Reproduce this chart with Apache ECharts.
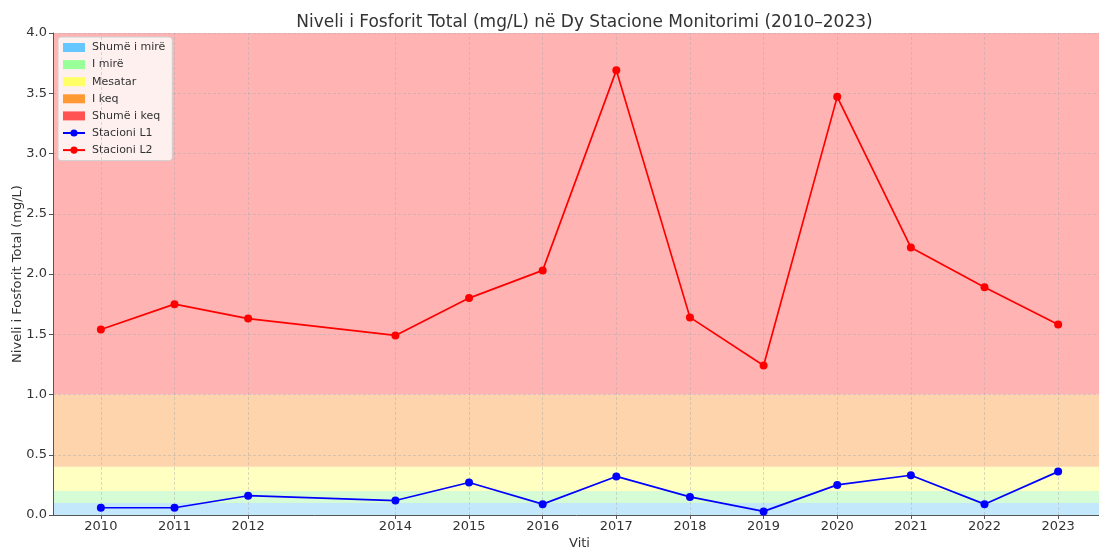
<!DOCTYPE html>
<html>
<head>
<meta charset="utf-8">
<script src="https://cdn.jsdelivr.net/npm/echarts@6/dist/echarts.min.js"></script>
<style>html,body{margin:0;padding:0;background:#fff;}#c{width:1099px;height:551px;}</style>
</head>
<body>
<div id="c"></div>
<script>
const years = [2010, 2011, 2012, 2014, 2015, 2016, 2017, 2018, 2019, 2020, 2021, 2022, 2023];
const stationL1 = [0.06, 0.06, 0.16, 0.12, 0.27, 0.09, 0.32, 0.15, 0.03, 0.25, 0.33, 0.09, 0.36];
const stationL2 = [1.54, 1.75, 1.63, 1.49, 1.80, 2.03, 3.69, 1.64, 1.24, 3.47, 2.22, 1.89, 1.58];
const bandNames = ['Shumë i mirë', 'I mirë', 'Mesatar', 'I keq', 'Shumë i keq'];
const bandLimits = [0, 0.1, 0.2, 0.4, 1.0, 4.0];
const bandLegendColors = ['#66c6ff', '#99ff99', '#ffff66', '#ff9933', '#ff5252'];
const bandFillColors = ['#c3e8fb', '#d6fcd6', '#ffffc2', '#fdd4ab', '#ffb3b3'];

const font = 'DejaVu Sans';
const chart = echarts.init(document.getElementById('c'), null, {renderer: 'canvas'});

const series = [];
bandNames.forEach((n, i) => {
  series.push({
    name: n, type: 'line', data: [], z: 1, silent: true,
    itemStyle: {color: bandLegendColors[i]},
    lineStyle: {color: bandLegendColors[i]},
    markArea: {
      silent: true,
      itemStyle: {color: bandFillColors[i]},
      data: [[{yAxis: bandLimits[i]}, {yAxis: bandLimits[i + 1]}]]
    }
  });
});
series.push({
  name: 'gridx', type: 'line', data: [], z: 3, silent: true,
  markLine: {
    silent: true, symbol: ['none', 'none'], label: {show: false},
    lineStyle: {color: 'rgba(170,170,170,0.55)', type: [3, 2], width: 0.8},
    data: years.map(y => ({xAxis: y}))
  }
});
series.push({
  name: 'Stacioni L1', type: 'line', z: 5,
  data: years.map((y, i) => [y, stationL1[i]]),
  symbol: 'circle', symbolSize: 8,
  itemStyle: {color: '#0000ff'}, lineStyle: {color: '#0000ff', width: 1.7}
});
series.push({
  name: 'Stacioni L2', type: 'line', z: 5,
  data: years.map((y, i) => [y, stationL2[i]]),
  symbol: 'circle', symbolSize: 8,
  itemStyle: {color: '#ff0000'}, lineStyle: {color: '#ff0000', width: 1.7}
});

chart.setOption({
  animation: false,
  backgroundColor: '#fff',
  title: {
    text: 'Niveli i Fosforit Total (mg/L) në Dy Stacione Monitorimi (2010–2023)',
    left: 579.5, textAlign: 'center', top: 9,
    textStyle: {fontFamily: font, fontSize: 17, fontWeight: 'normal', color: '#333'}
  },
  legend: {
    orient: 'vertical', left: 58, top: 37,
    itemWidth: 22, itemHeight: 9, itemGap: 6.1,
    padding: [5, 7, 5, 4],
    backgroundColor: 'rgba(255,255,255,0.8)', borderColor: '#d0d0d0', borderWidth: 1, borderRadius: 3,
    textStyle: {fontFamily: font, fontSize: 11, color: '#333', padding: [0, 0, 0, 2]},
    data: bandNames.map(n => ({name: n, icon: 'rect'})).concat([{name: 'Stacioni L1'}, {name: 'Stacioni L2'}])
  },
  grid: {left: 53, top: 33, width: 1053, height: 482, containLabel: false, outerBoundsMode: 'none'},
  xAxis: {
    type: 'value', min: 2009.35, max: 2023.65, z: 3,
    name: 'Viti', nameLocation: 'middle', nameGap: 22, nameMoveOverlap: false,
    nameTextStyle: {fontFamily: font, fontSize: 13, color: '#333'},
    axisLine: {show: true, lineStyle: {color: '#555', width: 1}},
    axisTick: {show: true, customValues: years, length: 4, lineStyle: {color: '#555'}},
    axisLabel: {customValues: years, fontFamily: font, fontSize: 13, color: '#333', margin: 5, formatter: v => String(v)},
    splitLine: {show: false}
  },
  yAxis: {
    type: 'value', min: 0, max: 4, interval: 0.5, z: 3,
    name: 'Niveli i Fosforit Total (mg/L)', nameLocation: 'middle', nameGap: 29, nameMoveOverlap: false,
    nameTextStyle: {fontFamily: font, fontSize: 13, color: '#333'},
    axisLine: {show: true, lineStyle: {color: '#555', width: 1}},
    axisTick: {show: true, length: 4, lineStyle: {color: '#555'}},
    axisLabel: {fontFamily: font, fontSize: 13, color: '#333', margin: 6, formatter: v => v.toFixed(1)},
    splitLine: {show: true, lineStyle: {color: 'rgba(170,170,170,0.55)', type: [3, 2], width: 0.8}}
  },
  series: series
});
</script>
</body>
</html>
